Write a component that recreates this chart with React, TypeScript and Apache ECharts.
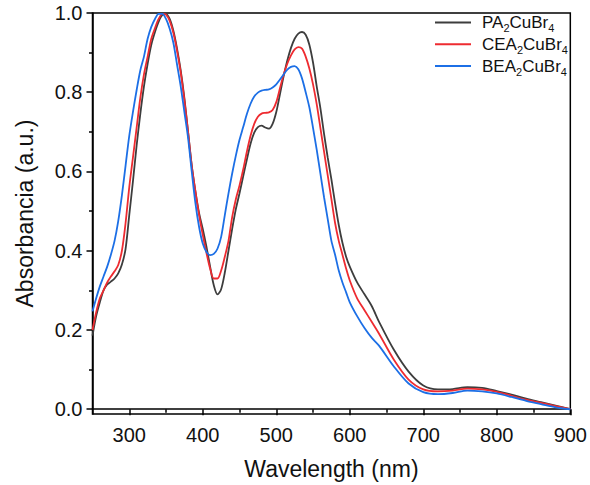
import React, { useEffect, useRef } from "react";
import * as echarts from "echarts";

const wavelengths = [
  250, 255, 260, 265, 270, 275, 280, 285, 290, 295,
  300, 305, 310, 315, 320, 325, 330, 335, 340, 345,
  350, 355, 360, 365, 370, 375, 380, 385, 390, 395,
  400, 405, 410, 415, 420, 425, 430, 435, 440, 445,
  450, 455, 460, 465, 470, 475, 480, 485, 490, 495,
  500, 505, 510, 515, 520, 525, 530, 535, 540, 545,
  550, 555, 560, 565, 570, 575, 580, 585, 590, 595,
  600, 610, 620, 630, 640,
  660, 680, 700, 720, 740, 760, 780, 800, 820, 840, 860, 880, 900,
];

const pa = [
  0.186, 0.235, 0.27, 0.3, 0.315, 0.322, 0.33, 0.343, 0.365, 0.405,
  0.49, 0.575, 0.665, 0.745, 0.815, 0.872, 0.92, 0.952, 0.978, 0.995,
  0.998, 0.985, 0.955, 0.91, 0.855, 0.785, 0.7, 0.615, 0.55, 0.495,
  0.455, 0.41, 0.36, 0.313, 0.29, 0.303, 0.345, 0.4, 0.455, 0.505,
  0.545, 0.588, 0.63, 0.67, 0.698, 0.712, 0.716, 0.711, 0.708, 0.72,
  0.75, 0.795, 0.84, 0.88, 0.912, 0.935, 0.948, 0.952, 0.945, 0.92,
  0.875, 0.815, 0.76, 0.695, 0.635, 0.58, 0.52, 0.465, 0.42, 0.385,
  0.36, 0.32, 0.29, 0.26, 0.22,
  0.15, 0.095, 0.06, 0.05, 0.051, 0.056, 0.054, 0.046, 0.037, 0.027, 0.018, 0.009, 0.0,
];

const cea = [
  0.2, 0.245, 0.28, 0.3, 0.32, 0.335, 0.348, 0.364, 0.4, 0.47,
  0.56, 0.635, 0.71, 0.785, 0.845, 0.89, 0.935, 0.962, 0.985, 0.998,
  0.996, 0.98, 0.95, 0.905, 0.85, 0.78, 0.7, 0.615, 0.55, 0.49,
  0.44, 0.395, 0.355, 0.33, 0.33, 0.35, 0.385, 0.425, 0.485, 0.53,
  0.565, 0.605, 0.65, 0.69, 0.72, 0.738, 0.746, 0.748, 0.749, 0.755,
  0.775, 0.81, 0.845, 0.872, 0.893, 0.908, 0.914, 0.91, 0.89, 0.86,
  0.82, 0.77, 0.71, 0.65, 0.59, 0.53, 0.47, 0.425, 0.39, 0.355,
  0.325, 0.28, 0.25, 0.22, 0.19,
  0.125, 0.075, 0.05, 0.045, 0.047, 0.052, 0.05, 0.044, 0.034, 0.024, 0.016, 0.008, 0.0,
];

const bea = [
  0.247, 0.28, 0.31, 0.335, 0.36, 0.39, 0.425, 0.475, 0.54, 0.615,
  0.69, 0.75, 0.805, 0.855, 0.89, 0.935, 0.965, 0.985, 0.998, 0.998,
  0.985, 0.96, 0.925, 0.87, 0.815, 0.75, 0.685, 0.6, 0.52, 0.46,
  0.418, 0.397, 0.389, 0.392, 0.405, 0.435, 0.49, 0.545, 0.595, 0.64,
  0.68, 0.712, 0.745, 0.771, 0.789, 0.799, 0.804, 0.806, 0.807, 0.812,
  0.82, 0.832, 0.845, 0.857, 0.864, 0.866, 0.858, 0.835, 0.8, 0.762,
  0.71, 0.655, 0.595, 0.535, 0.48, 0.425, 0.39, 0.35, 0.32, 0.295,
  0.27, 0.235, 0.205, 0.18, 0.16,
  0.108, 0.065, 0.043, 0.038, 0.041, 0.047, 0.045, 0.04, 0.031, 0.021, 0.013, 0.005, 0.0,
];

const seriesNames = ["PA2CuBr4", "CEA2CuBr4", "BEA2CuBr4"];
const seriesColors = ["#3d3d3d", "#ee2b30", "#1c6fe6"];

const xTickValues = [300, 400, 500, 600, 700, 800, 900];
const xMinorTicks = [350, 450, 550, 650, 750, 850];
const yTickValues = [0, 0.2, 0.4, 0.6, 0.8, 1.0];
const yMinorTicks = [0.1, 0.3, 0.5, 0.7, 0.9];

const xTitle = "Wavelength (nm)";
const yTitle = "Absorbancia (a.u.)";

const FONT = "Liberation Sans, Arial, sans-serif";

export default function App() {
  const ref = useRef<HTMLDivElement>(null);

  useEffect(() => {
    if (!ref.current) return;
    const chart = echarts.init(ref.current, undefined, { renderer: "svg" });
    const values = [pa, cea, bea];

    const axisLineStyle = { color: "#000", width: 1.5 };

    const option: any = {
      animation: false,
      backgroundColor: "#fff",
      textStyle: { fontFamily: FONT },
      grid: {
        left: 92.5,
        right: 18,
        top: 13,
        bottom: 69,
        show: true,
        borderColor: "#000",
        borderWidth: 1.5,
        backgroundColor: "transparent",
      },
      legend: {
        orient: "vertical",
        left: 430,
        top: 9,
        itemWidth: 36,
        itemHeight: 2,
        itemGap: 2,
        icon: "rect",
        data: seriesNames,
        formatter: (name: string) => {
          const parts = name.split(/(\d)/).filter((p) => p.length > 0);
          return parts.map((p) => (/^\d$/.test(p) ? `{s|${p}}` : `{n|${p}}`)).join("");
        },
        textStyle: {
          fontFamily: FONT,
          color: "#111",
          padding: [0, 0, 0, 6],
          rich: {
            n: { fontSize: 17, fontFamily: FONT, color: "#111", lineHeight: 22.5, verticalAlign: "middle" },
            s: { fontSize: 11, fontFamily: FONT, color: "#111", lineHeight: 11, verticalAlign: "bottom" },
          },
        },
      },
      xAxis: [
        {
          type: "value",
          min: 250,
          max: 900,
          position: "bottom",
          name: xTitle,
          nameLocation: "middle",
          nameGap: 43,
          nameTextStyle: { fontSize: 23, color: "#111", fontFamily: FONT },
          axisLine: { show: true, lineStyle: axisLineStyle },
          axisTick: { show: true, length: 6, lineStyle: axisLineStyle, customValues: xTickValues },
          axisLabel: { show: true, fontSize: 20, color: "#111", margin: 11, fontFamily: FONT, customValues: xTickValues },
          splitLine: { show: false },
        },
        {
          type: "value",
          min: 250,
          max: 900,
          position: "bottom",
          axisLine: { show: false },
          axisTick: { show: true, length: 3.5, lineStyle: axisLineStyle, customValues: xMinorTicks },
          axisLabel: { show: false },
          splitLine: { show: false },
        },
      ],
      yAxis: [
        {
          type: "value",
          min: -0.012,
          max: 1.0,
          position: "left",
          name: yTitle,
          nameLocation: "middle",
          nameGap: 56,
          nameTextStyle: { fontSize: 23, color: "#111", fontFamily: FONT },
          axisLine: { show: true, lineStyle: axisLineStyle },
          axisTick: { show: true, length: 6, lineStyle: axisLineStyle, customValues: yTickValues },
          axisLabel: {
            show: true,
            fontSize: 20,
            color: "#111",
            margin: 10,
            fontFamily: FONT,
            customValues: yTickValues,
            formatter: (v: number) => v.toFixed(1),
          },
          splitLine: { show: false },
        },
        {
          type: "value",
          min: -0.012,
          max: 1.0,
          position: "left",
          axisLine: { show: false },
          axisTick: { show: true, length: 3.5, lineStyle: axisLineStyle, customValues: yMinorTicks },
          axisLabel: { show: false },
          splitLine: { show: false },
        },
      ],
      series: seriesNames.map((name, k) => ({
        name,
        type: "line",
        xAxisIndex: 0,
        yAxisIndex: 0,
        smooth: 0.3,
        showSymbol: false,
        symbol: "none",
        lineStyle: { color: seriesColors[k], width: 1.8 },
        itemStyle: { color: seriesColors[k] },
        data: wavelengths.map((w, i) => [w, values[k][i]]),
      })),
    };

    chart.setOption(option);
    return () => chart.dispose();
  }, []);

  return <div ref={ref} style={{ width: 590, height: 485, position: "absolute", left: 0, top: 0 }} />;
}
